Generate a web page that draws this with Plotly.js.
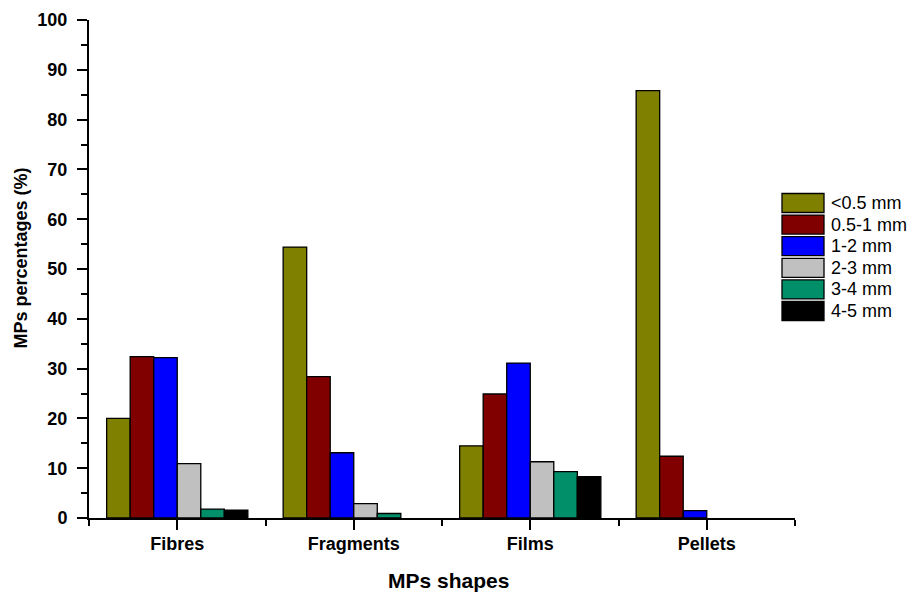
<!DOCTYPE html>
<html>
<head>
<meta charset="utf-8">
<script src="https://cdn.plot.ly/plotly-3.0.1.min.js"></script>
<style>
  html, body { margin: 0; padding: 0; background: #fff; }
  #chart { width: 919px; height: 594px; }
</style>
</head>
<body>
<div id="chart"></div>
<script>
// MP shape categories and size classes
const shapes = ["Fibres", "Fragments", "Films", "Pellets"];
const sizeClasses = ["<0.5 mm", "0.5-1 mm", "1-2 mm", "2-3 mm", "3-4 mm", "4-5 mm"];
const sizeColors = ["#808000", "#800000", "#0000FF", "#C0C0C0", "#008F68", "#000000"];

// Percentage of each size class per shape (%)
const lt05  = [20.0, 54.4, 14.5, 85.8];
const s05_1 = [32.4, 28.4, 24.9, 12.4];
const s1_2  = [32.2, 13.1, 31.1, 1.5];
const s2_3  = [10.9, 2.9, 11.3, 0];
const s3_4  = [1.8, 0.9, 9.3, 0];
const s4_5  = [1.6, 0, 8.3, 0];

const seriesValues = [lt05, s05_1, s1_2, s2_3, s3_4, s4_5];
const xIdx = shapes.map((_, i) => i);

const FONT = "Liberation Sans, Arial, sans-serif";

// Empty classes get no outline so nothing shows along the baseline
const traces = seriesValues.map((vals, k) => ({
  type: "bar",
  name: sizeClasses[k],
  x: xIdx,
  y: vals,
  marker: {
    color: sizeColors[k],
    line: { color: "#000", width: vals.map(v => (v > 0 ? 1.3 : 0)) }
  },
  showlegend: false
}));

// Plot area in pixels, plus helpers for paper coordinates
const plotL = 89, plotR = 795, plotT = 20, plotB = 518;
const px2x = px => (px - plotL) / (plotR - plotL);
const py2y = py => (plotB - py) / (plotB - plotT);

// Hand-built legend with large swatches to the right of the plot
const legendShapes = [];
const annotations = [];
sizeClasses.forEach((name, k) => {
  const top = 193.5 + k * 21.6;
  const bot = top + 19;
  legendShapes.push({
    type: "rect", xref: "paper", yref: "paper",
    x0: px2x(782), x1: px2x(824), y0: py2y(bot), y1: py2y(top),
    fillcolor: sizeColors[k], line: { color: "#000", width: 1.3 }
  });
  annotations.push({
    xref: "paper", yref: "paper", x: px2x(829), y: py2y((top + bot) / 2),
    xanchor: "left", yanchor: "middle", showarrow: false, text: name,
    font: { family: FONT, size: 18, color: "#000" }
  });
});

// Axis titles
annotations.push({
  xref: "paper", yref: "paper", x: px2x(448), y: py2y(580),
  xanchor: "center", yanchor: "middle", showarrow: false,
  text: "<b>MPs shapes</b>", font: { family: FONT, size: 21, color: "#000" }
});
annotations.push({
  xref: "paper", yref: "paper", x: px2x(20.5), y: py2y(258),
  xanchor: "center", yanchor: "middle", showarrow: false, textangle: -90,
  text: "<b>MPs percentages (%)</b>", font: { family: FONT, size: 18, color: "#000" }
});

const layout = {
  width: 919, height: 594,
  margin: { l: plotL, r: 919 - plotR, t: plotT, b: 594 - plotB, pad: 0 },
  paper_bgcolor: "#fff", plot_bgcolor: "#fff",
  barmode: "group", bargap: 0.2, bargroupgap: 0,
  font: { family: FONT, color: "#000" },
  xaxis: {
    range: [-0.5, 3.5], tickvals: xIdx, ticktext: shapes,
    showgrid: false, zeroline: false,
    showline: true, linecolor: "#000", linewidth: 2,
    ticks: "outside", ticklen: 10, tickwidth: 2, tickcolor: "#000",
    minor: { dtick: 0.5, tick0: 0, ticks: "outside", ticklen: 6, tickwidth: 2, tickcolor: "#000", showgrid: false },
    tickfont: { size: 18, family: FONT, weight: "bold" },
    ticklabelstandoff: -2,
    automargin: false
  },
  yaxis: {
    range: [0, 100], dtick: 10, tick0: 0,
    showgrid: false, zeroline: false,
    showline: true, linecolor: "#000", linewidth: 2,
    ticks: "outside", ticklen: 10, tickwidth: 2, tickcolor: "#000",
    minor: { dtick: 5, tick0: 0, ticks: "outside", ticklen: 6, tickwidth: 2, tickcolor: "#000", showgrid: false },
    tickfont: { size: 18, family: FONT, weight: "bold" },
    ticklabelstandoff: 6,
    automargin: false
  },
  shapes: legendShapes,
  annotations: annotations
};

Plotly.newPlot("chart", traces, layout, { displayModeBar: false, staticPlot: true });
</script>
</body>
</html>
